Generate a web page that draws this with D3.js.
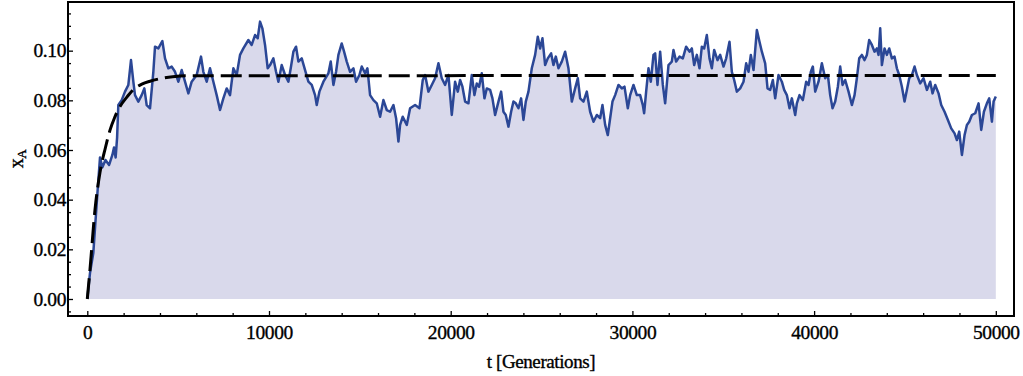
<!DOCTYPE html>
<html>
<head>
<meta charset="utf-8">
<script src="https://cdn.jsdelivr.net/npm/d3@7"></script>
<style>
  body { margin: 0; background: #ffffff; }
  svg { display: block; }
</style>
</head>
<body>
<script>
var SVG_WIDTH = 1023;
var SVG_HEIGHT = 376;
var FONT = "'Liberation Serif', serif";

var frame_left = 68, frame_right = 1014, frame_top = 2, frame_bottom = 316;

var line_color = "#2b4796";
var fill_color = "#d9d9eb";

// stochastic trajectory x_A(t)
var generations = [
  0, 150, 330, 570, 700, 830, 1000, 1200, 1380, 1470,
  1560, 1640, 1708, 1892, 2075, 2259, 2405, 2534, 2626, 2809,
  2993, 3139, 3268, 3451, 3635, 3727, 3910, 4130, 4277, 4461,
  4644, 4828, 5011, 5195, 5378, 5562, 5745, 6020, 6259, 6387,
  6571, 6754, 6938, 7121, 7305, 7488, 7672, 7855, 8039, 8222,
  8406, 8589, 8865, 9048, 9232, 9378, 9507, 9635, 9782, 9929,
  10058, 10242, 10388, 10517, 10700, 10884, 11067, 11196, 11343, 11489,
  11618, 11801, 11985, 12168, 12352, 12535, 12627, 12774, 12994, 13269,
  13398, 13545, 13691, 13820, 14003, 14132, 14279, 14462, 14646, 14792,
  14976, 15104, 15288, 15416, 15563, 15747, 15930, 16114, 16297, 16481,
  16664, 16848, 16994, 17123, 17215, 17361, 17582, 17765, 18040, 18279,
  18462, 18591, 18774, 18958, 19141, 19325, 19508, 19692, 19875, 20059,
  20242, 20389, 20517, 20646, 20793, 20976, 21160, 21306, 21435, 21563,
  21710, 21857, 21985, 22169, 22297, 22444, 22628, 22775, 22903, 23031,
  23178, 23325, 23453, 23582, 23729, 23875, 24004, 24132, 24279, 24463,
  24646, 24793, 24921, 25050, 25197, 25343, 25527, 25655, 25784, 25931,
  26114, 26298, 26481, 26665, 26848, 26995, 27123, 27307, 27490, 27674,
  27857, 28041, 28224, 28353, 28500, 28646, 28775, 28903, 29050, 29234,
  29417, 29564, 29747, 29876, 30059, 30243, 30426, 30573, 30646, 30756,
  30885, 31013, 31160, 31252, 31380, 31527, 31674, 31802, 31986, 32169,
  32261, 32408, 32591, 32775, 32958, 33142, 33270, 33399, 33546, 33692,
  33821, 33949, 34096, 34243, 34371, 34500, 34683, 34830, 35014, 35160,
  35344, 35472, 35601, 35748, 35931, 36115, 36261, 36390, 36518, 36665,
  36849, 36995, 37124, 37307, 37436, 37583, 37729, 37858, 38041, 38225,
  38353, 38500, 38647, 38775, 38959, 39051, 39197, 39381, 39564, 39693,
  39821, 39931, 40060, 40243, 40427, 40610, 40757, 40885, 41014, 41161,
  41307, 41436, 41564, 41711, 41895, 42078, 42225, 42353, 42482, 42629,
  42775, 42904, 43032, 43179, 43326, 43454, 43546, 43638, 43730, 43876,
  44005, 44133, 44280, 44427, 44555, 44684, 44831, 44977, 45106, 45234,
  45381, 45528, 45656, 45840, 46023, 46207, 46390, 46519, 46666, 46849,
  46996, 47179, 47363, 47546, 47730, 47858, 47987, 48134, 48280, 48409,
  48537, 48684, 48868, 49051, 49198, 49345, 49510, 49638, 49785, 49877,
  50000
];

var xA = [
  0, 0.0105, 0.0185, 0.044, 0.057, 0.053, 0.056, 0.054, 0.058, 0.061,
  0.057, 0.065, 0.0781, 0.0801, 0.0835, 0.0862, 0.0962, 0.0875, 0.0821, 0.0795,
  0.0821, 0.0848, 0.0781, 0.0768, 0.0915, 0.1016, 0.1009, 0.1039, 0.0969, 0.0929,
  0.0936, 0.0915, 0.0875, 0.0922, 0.0875, 0.0828, 0.0875, 0.0902, 0.0976, 0.0915,
  0.0875, 0.0929, 0.0875, 0.0821, 0.0761, 0.0808, 0.0848, 0.0821, 0.0929, 0.0902,
  0.0983, 0.1009, 0.1043, 0.1023, 0.1063, 0.1050, 0.1117, 0.1090, 0.1023, 0.0929,
  0.0942, 0.0969, 0.0915, 0.0875, 0.0942, 0.0902, 0.0875, 0.0929, 0.0996, 0.1016,
  0.0956, 0.0969, 0.0922, 0.0875, 0.0862, 0.0821, 0.0781, 0.0835, 0.0875, 0.0909,
  0.0956, 0.0862, 0.0915, 0.0983, 0.1029, 0.0996, 0.0956, 0.0915, 0.0929, 0.0875,
  0.0902, 0.0936, 0.0909, 0.0929, 0.0821, 0.0801, 0.0788, 0.0734, 0.0801, 0.0761,
  0.0754, 0.0781, 0.0728, 0.0634, 0.0701, 0.0734, 0.0701, 0.0768, 0.0781, 0.0768,
  0.0882, 0.0902, 0.0835, 0.0862, 0.0889, 0.0949, 0.0889, 0.0862, 0.0902, 0.0741,
  0.0875, 0.0835, 0.0882, 0.0855, 0.0795, 0.0788, 0.0902, 0.0821, 0.0868, 0.0855,
  0.0909, 0.0808, 0.0848, 0.0842, 0.0808, 0.0741, 0.0795, 0.0835, 0.0754, 0.0741,
  0.0694, 0.0754, 0.0795, 0.0788, 0.0768, 0.0808, 0.0721, 0.0795, 0.0835, 0.0929,
  0.0983, 0.1056, 0.1009, 0.1050, 0.0942, 0.0969, 0.0989, 0.0942, 0.0976, 0.0929,
  0.0956, 0.0996, 0.0929, 0.0795, 0.0848, 0.0889, 0.0808, 0.0795, 0.0835, 0.0754,
  0.0714, 0.0741, 0.0728, 0.0781, 0.0701, 0.0660, 0.0728, 0.0795, 0.0821, 0.0862,
  0.0848, 0.0855, 0.0768, 0.0821, 0.0862, 0.0821, 0.0821, 0.0781, 0.0748, 0.0835,
  0.0929, 0.0875, 0.0983, 0.0989, 0.0862, 0.0996, 0.0862, 0.0788, 0.0942, 0.0956,
  0.1003, 0.0956, 0.0976, 0.0969, 0.1016, 0.0996, 0.1009, 0.0942, 0.0983, 0.0929,
  0.1016, 0.1009, 0.1063, 0.0969, 0.0929, 0.1003, 0.0962, 0.0983, 0.0936, 0.0969,
  0.1036, 0.0915, 0.0882, 0.0835, 0.0848, 0.0875, 0.0949, 0.0915, 0.0983, 0.0922,
  0.1083, 0.1036, 0.0996, 0.0949, 0.0848, 0.0842, 0.0882, 0.0808, 0.0902, 0.0875,
  0.0842, 0.0821, 0.0768, 0.0808, 0.0741, 0.0788, 0.0821, 0.0801, 0.0875, 0.0862,
  0.0915, 0.0936, 0.0835, 0.0875, 0.0949, 0.0889, 0.0902, 0.0821, 0.0768, 0.0795,
  0.0855, 0.0936, 0.0862, 0.0882, 0.0835, 0.0781, 0.0821, 0.0889, 0.0969, 0.0983,
  0.0962, 0.0983, 0.1043, 0.1023, 0.0996, 0.1009, 0.0983, 0.1090, 0.0942, 0.1009,
  0.0983, 0.1009, 0.0969, 0.0976, 0.0929, 0.0902, 0.0855, 0.0795, 0.0842, 0.0889,
  0.0902, 0.0936, 0.0902, 0.0868, 0.0889, 0.0842, 0.0875, 0.0828, 0.0862, 0.0828,
  0.0781, 0.0754, 0.0721, 0.0687, 0.0667, 0.0640, 0.0674, 0.0580, 0.0660, 0.0701,
  0.0714, 0.0741, 0.0748, 0.0788, 0.0681, 0.0754, 0.0788, 0.0808, 0.0714, 0.0795,
  0.0815
];

// deterministic (dashed) curve
var theory_generations = [0, 150, 424, 700, 1000, 1250, 1500, 1800, 2200, 2530, 3000, 3450, 4000, 4700, 5500, 50000];
var theory_xA = [0, 0.012, 0.036, 0.051, 0.061, 0.068, 0.073, 0.0775, 0.0815, 0.0843, 0.0865, 0.0877, 0.0887, 0.0895, 0.0899, 0.09];

// ticks and labels
var x_major_ticks = [0, 10000, 20000, 30000, 40000, 50000];
var y_major_ticks = [0, 0.02, 0.04, 0.06, 0.08, 0.10];
var x_label = "t [Generations]";
var y_label = "x";
var y_label_sub = "A";

var svg, x, y;


function initializeView() {
  svg = d3.select("body").append("svg")
          .attr("width", SVG_WIDTH)
          .attr("height", SVG_HEIGHT);

  x = d3.scaleLinear().domain([-1062, 51001]).range([frame_left, frame_right]);
  y = d3.scaleLinear().domain([-0.00685, 0.1196]).range([frame_bottom, frame_top]);
}


function drawSeries() {
  var trajectory = generations.map(function (t, i) { return [t, xA[i]]; });
  var theory = theory_generations.map(function (t, i) { return [t, theory_xA[i]]; });

  // filling down to the axis
  svg.append("path")
      .datum(trajectory)
      .attr("fill", fill_color)
      .attr("d", d3.area()
                   .x(function (d) { return x(d[0]); })
                   .y0(y(0))
                   .y1(function (d) { return y(d[1]); }));

  // trajectory line
  svg.append("path")
      .datum(trajectory)
      .attr("fill", "none")
      .attr("stroke", line_color)
      .attr("stroke-width", 2.5)
      .attr("stroke-linejoin", "round")
      .attr("d", d3.line()
                   .x(function (d) { return x(d[0]); })
                   .y(function (d) { return y(d[1]); }));

  // dashed deterministic curve on top
  svg.append("path")
      .datum(theory)
      .attr("fill", "none")
      .attr("stroke", "#000000")
      .attr("stroke-width", 3)
      .attr("stroke-dasharray", "21,7")
      .attr("d", d3.line()
                   .curve(d3.curveMonotoneX)
                   .x(function (d) { return x(d[0]); })
                   .y(function (d) { return y(d[1]); }));
}


// slightly heavier glyphs, like the original export
function styleText(sel, size) {
  sel.style("font-family", FONT)
     .style("font-size", size + "px")
     .style("letter-spacing", "-0.4px")
     .attr("fill", "#000")
     .attr("stroke", "#000")
     .attr("stroke-width", 0.35);
}


function drawAxes() {
  var x_minor = d3.range(0, 50001, 2000).filter(function (d) { return d % 10000 != 0; });
  var y_minor = d3.range(-1, 24).map(function (i) { return i * 0.005; })
                  .filter(function (d) { return Math.abs(d / 0.02 - Math.round(d / 0.02)) > 1e-6; });

  // minor ticks
  svg.append("g")
      .attr("transform", "translate(0," + frame_bottom + ")")
      .call(d3.axisBottom(x).tickValues(x_minor).tickSize(-3).tickFormat(""))
      .call(function (g) { g.select(".domain").remove(); });
  svg.append("g")
      .attr("transform", "translate(" + frame_left + ",0)")
      .call(d3.axisLeft(y).tickValues(y_minor).tickSize(-3).tickFormat(""))
      .call(function (g) { g.select(".domain").remove(); });

  // major ticks with labels
  var xa = svg.append("g")
      .attr("transform", "translate(0," + frame_bottom + ")")
      .call(d3.axisBottom(x).tickValues(x_major_ticks).tickSize(-5).tickPadding(9).tickFormat(d3.format("d")));
  var ya = svg.append("g")
      .attr("transform", "translate(" + frame_left + ",0)")
      .call(d3.axisLeft(y).tickValues(y_major_ticks).tickSize(-5).tickPadding(2).tickFormat(d3.format(".2f")));

  [xa, ya].forEach(function (g) {
    g.select(".domain").remove();
    styleText(g.selectAll("text"), 19.5);
  });
  svg.selectAll(".tick line").attr("stroke", "#000").attr("stroke-width", 1.3);

  // frame
  svg.append("rect")
      .attr("x", frame_left)
      .attr("y", frame_top)
      .attr("width", frame_right - frame_left)
      .attr("height", frame_bottom - frame_top)
      .attr("fill", "none")
      .attr("stroke", "#000")
      .attr("stroke-width", 2);

  // axis labels
  var xl = svg.append("text")
      .attr("x", (frame_left + frame_right) / 2)
      .attr("y", 368)
      .attr("text-anchor", "middle")
      .text(x_label);
  styleText(xl, 19);

  var yl = svg.append("text")
      .attr("transform", "translate(23,159) rotate(-90)")
      .attr("text-anchor", "middle")
      .text(y_label);
  styleText(yl, 20);
  yl.append("tspan")
      .style("font-size", "13px")
      .attr("dy", 3)
      .text(y_label_sub);
}


function initialize() {
  initializeView();
  drawSeries();
  drawAxes();
}

initialize();
</script>
</body>
</html>
